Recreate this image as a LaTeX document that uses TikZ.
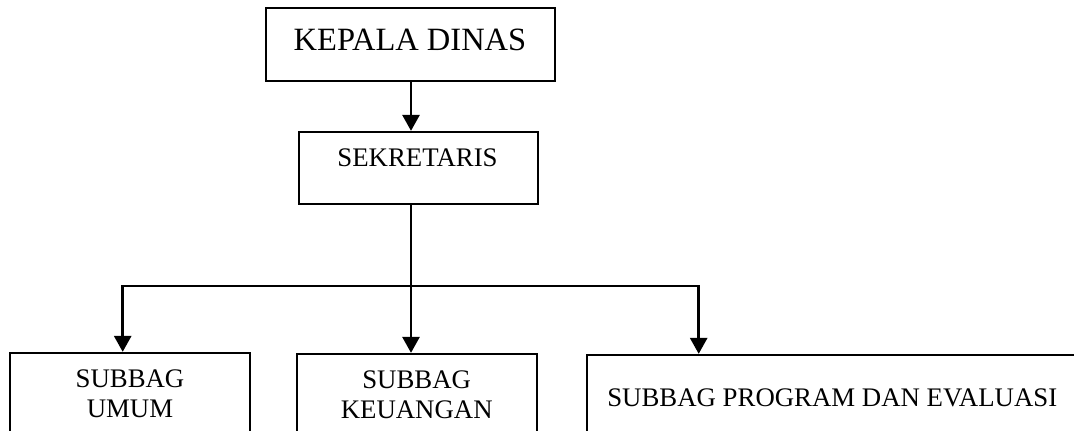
\documentclass[tikz,border=0pt]{standalone}
\usepackage{fontspec}
\setmainfont{Liberation Serif}
\usetikzlibrary{arrows.meta}
\begin{document}
\begin{tikzpicture}[x=1pt,y=-1pt,
  orgbox/.style={draw=black,line width=2.3pt,rectangle,inner sep=0pt,fill=white},
  lbl/.style={inner sep=0pt,anchor=base,font=\fontsize{26.8}{30}\selectfont},
  biglbl/.style={inner sep=0pt,anchor=base,font=\fontsize{32.5}{36}\selectfont},
  link/.style={line width=2.8pt,draw=black,line join=miter},
  arr/.style={link,-{Triangle[length=16pt,width=17pt]}}]
  \useasboundingbox (0,0) rectangle (1074,431);
  \clip (0,0) rectangle (1074,431);
  % boxes
  \node[orgbox,minimum width=289pt,minimum height=73pt] (kd) at (410.5,44.5) {};
  \node[orgbox,minimum width=239pt,minimum height=72pt] (sek) at (418.5,168) {};
  \node[orgbox,minimum width=240pt,minimum height=110pt] (umum) at (130,408) {};
  \node[orgbox,minimum width=240pt,minimum height=110pt] (keu) at (417,409) {};
  \node[orgbox,minimum width=520pt,minimum height=110pt] (prog) at (847,410) {};
  % labels
  \node[biglbl] (tkd) at (410,50) {KEPALA DINAS};
  \node[lbl] (tsek) at (417.5,166.7) {SEKRETARIS};
  \node[lbl] (tumum) at (130,387) {\setlength{\tabcolsep}{0pt}\begin{tabular}[t]{c}SUBBAG\\UMUM\end{tabular}};
  \node[lbl] (tkeu) at (416.7,388) {\setlength{\tabcolsep}{0pt}\begin{tabular}[t]{c}SUBBAG\\KEUANGAN\end{tabular}};
  \node[lbl] (tprog) at (832.3,406.7) {SUBBAG PROGRAM DAN EVALUASI};
  % connectors
  \coordinate (bus) at (411,286);
  \coordinate (busL) at (122.7,286);
  \coordinate (busR) at (698.7,286);
  \draw[arr] (kd.south -| bus) -- (bus |- sek.north);
  \draw[arr] (bus |- sek.south) -- (bus) -- (bus |- keu.north);
  \draw[arr] (bus) -- (busL) -- (busL |- umum.north);
  \draw[arr] (bus) -- (busR) -- (busR |- prog.north);
\end{tikzpicture}
\end{document}
